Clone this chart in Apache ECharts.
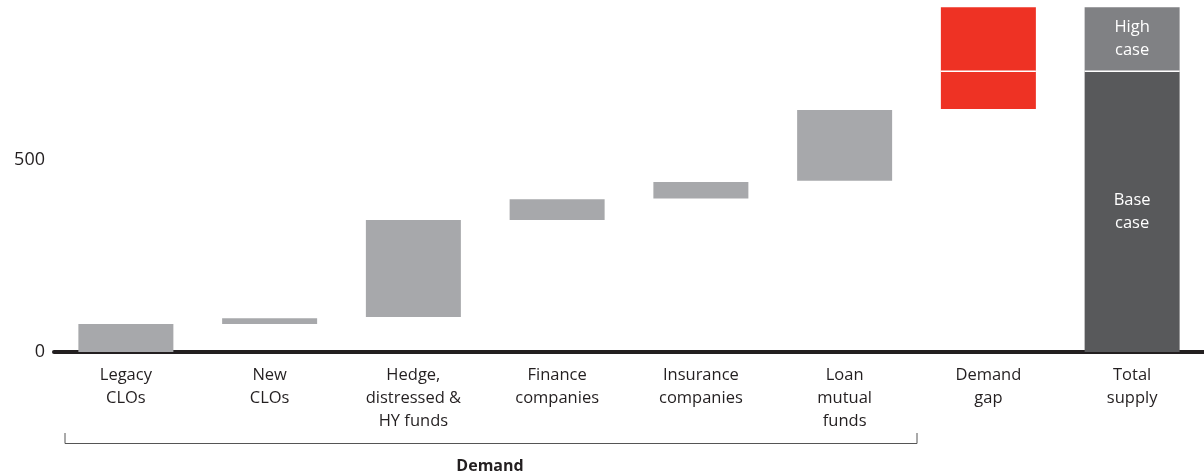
<!DOCTYPE html>
<html>
<head>
<meta charset="utf-8">
<style>
  html, body { margin: 0; padding: 0; background: #fff; }
  #chart { width: 1204px; height: 476px; }
</style>
<script src="https://cdn.jsdelivr.net/npm/echarts@6/dist/echarts.min.js"></script>
</head>
<body>
<div id="chart"></div>
<script>
// categories along the bottom
var categories = ['Legacy\nCLOs', 'New\nCLOs', 'Hedge,\ndistressed &\nHY funds', 'Finance\ncompanies',
  'Insurance\ncompanies', 'Loan\nmutual\nfunds', 'Demand\ngap', 'Total\nsupply'];

// where each floating bar starts (invisible)
var offsets = [0, 73, 91, 344, 400, 446, 633, 0];
// demand pieces
var demand = [73, 15, 253, 54, 43, 184, '-', '-'];
// demand gap, base part and extra for high case
var gapBase = ['-', '-', '-', '-', '-', '-', 98, '-'];
var gapHigh = ['-', '-', '-', '-', '-', '-', 167, '-'];
// total supply
var supplyBase = ['-', '-', '-', '-', '-', '-', '-', 731];
var supplyHigh = ['-', '-', '-', '-', '-', '-', '-', 167];

var yTicks = [0, 500];

var font = '"Open Sans", "Noto Sans", sans-serif';
var barW = 95;

document.addEventListener('DOMContentLoaded', function () {
  var chart = echarts.init(document.getElementById('chart'));

  var option = {
    animation: false,
    textStyle: { fontFamily: font },
    grid: { left: 54, right: 0, top: 6.4, bottom: 124, containLabel: false },
    xAxis: {
      type: 'category',
      data: categories,
      axisLine: { lineStyle: { color: '#231f20', width: 4 } },
      axisTick: { show: false },
      axisLabel: {
        interval: 0, margin: 12, color: '#231f20', fontSize: 16.5, lineHeight: 23,
        fontFamily: font, verticalAlign: 'top'
      }
    },
    yAxis: {
      type: 'value',
      min: 0, max: 900, interval: 100,
      axisLine: { show: false },
      axisTick: { show: false },
      splitLine: { show: false },
      axisLabel: {
        margin: 9, color: '#231f20', fontSize: 18, fontFamily: font,
        formatter: function (v) { return yTicks.indexOf(v) >= 0 ? String(v) : ''; }
      }
    },
    series: [
      {
        name: 'offset', type: 'bar', stack: 'w', barWidth: barW, data: offsets,
        itemStyle: { color: 'transparent' }, silent: true
      },
      {
        name: 'Demand', type: 'bar', stack: 'w', data: demand,
        itemStyle: { color: '#a7a8ab' }
      },
      {
        name: 'Gap base', type: 'bar', stack: 'w', data: gapBase,
        itemStyle: { color: '#ee3224' }
      },
      {
        name: 'Supply base', type: 'bar', stack: 'w', data: supplyBase,
        itemStyle: { color: '#58595b' },
        label: {
          show: true, position: 'inside', formatter: 'Base\ncase',
          color: '#fff', fontSize: 16.5, lineHeight: 23, fontFamily: font
        }
      },
      {
        name: 'Gap high', type: 'bar', stack: 'w', data: gapHigh,
        itemStyle: { color: '#ee3224' }
      },
      {
        name: 'Supply high', type: 'bar', stack: 'w', data: supplyHigh,
        itemStyle: { color: '#808184' },
        label: {
          show: true, position: 'inside', formatter: 'High\ncase',
          color: '#fff', fontSize: 16.5, lineHeight: 23, fontFamily: font
        }
      }
    ],
    graphic: [
      {
        type: 'polyline',
        shape: { points: [[65, 433], [65, 443.5], [917, 443.5], [917, 433]] },
        style: { stroke: '#555', lineWidth: 1, fill: null }
      },
      {
        type: 'text', x: 490, y: 466,
        style: {
          text: 'Demand', fontSize: 16, fontWeight: 'bold', fill: '#231f20',
          fontFamily: font, align: 'center', verticalAlign: 'middle'
        }
      }
    ]
  };

  chart.setOption(option);

  // thin white line where the base case ends, on the gap and supply bars
  var seps = [];
  [6, 7].forEach(function (i) {
    var top = (offsets[i] === '-' ? 0 : offsets[i]) + (gapBase[i] !== '-' ? gapBase[i] : supplyBase[i]);
    var p = chart.convertToPixel({ gridIndex: 0 }, [i, top]);
    seps.push({
      type: 'line', z: 100,
      shape: { x1: p[0] - barW / 2, y1: p[1], x2: p[0] + barW / 2, y2: p[1] },
      style: { stroke: '#fff', lineWidth: 1.5 }
    });
  });
  chart.setOption({ graphic: option.graphic.concat(seps) });
});
</script>
</body>
</html>
